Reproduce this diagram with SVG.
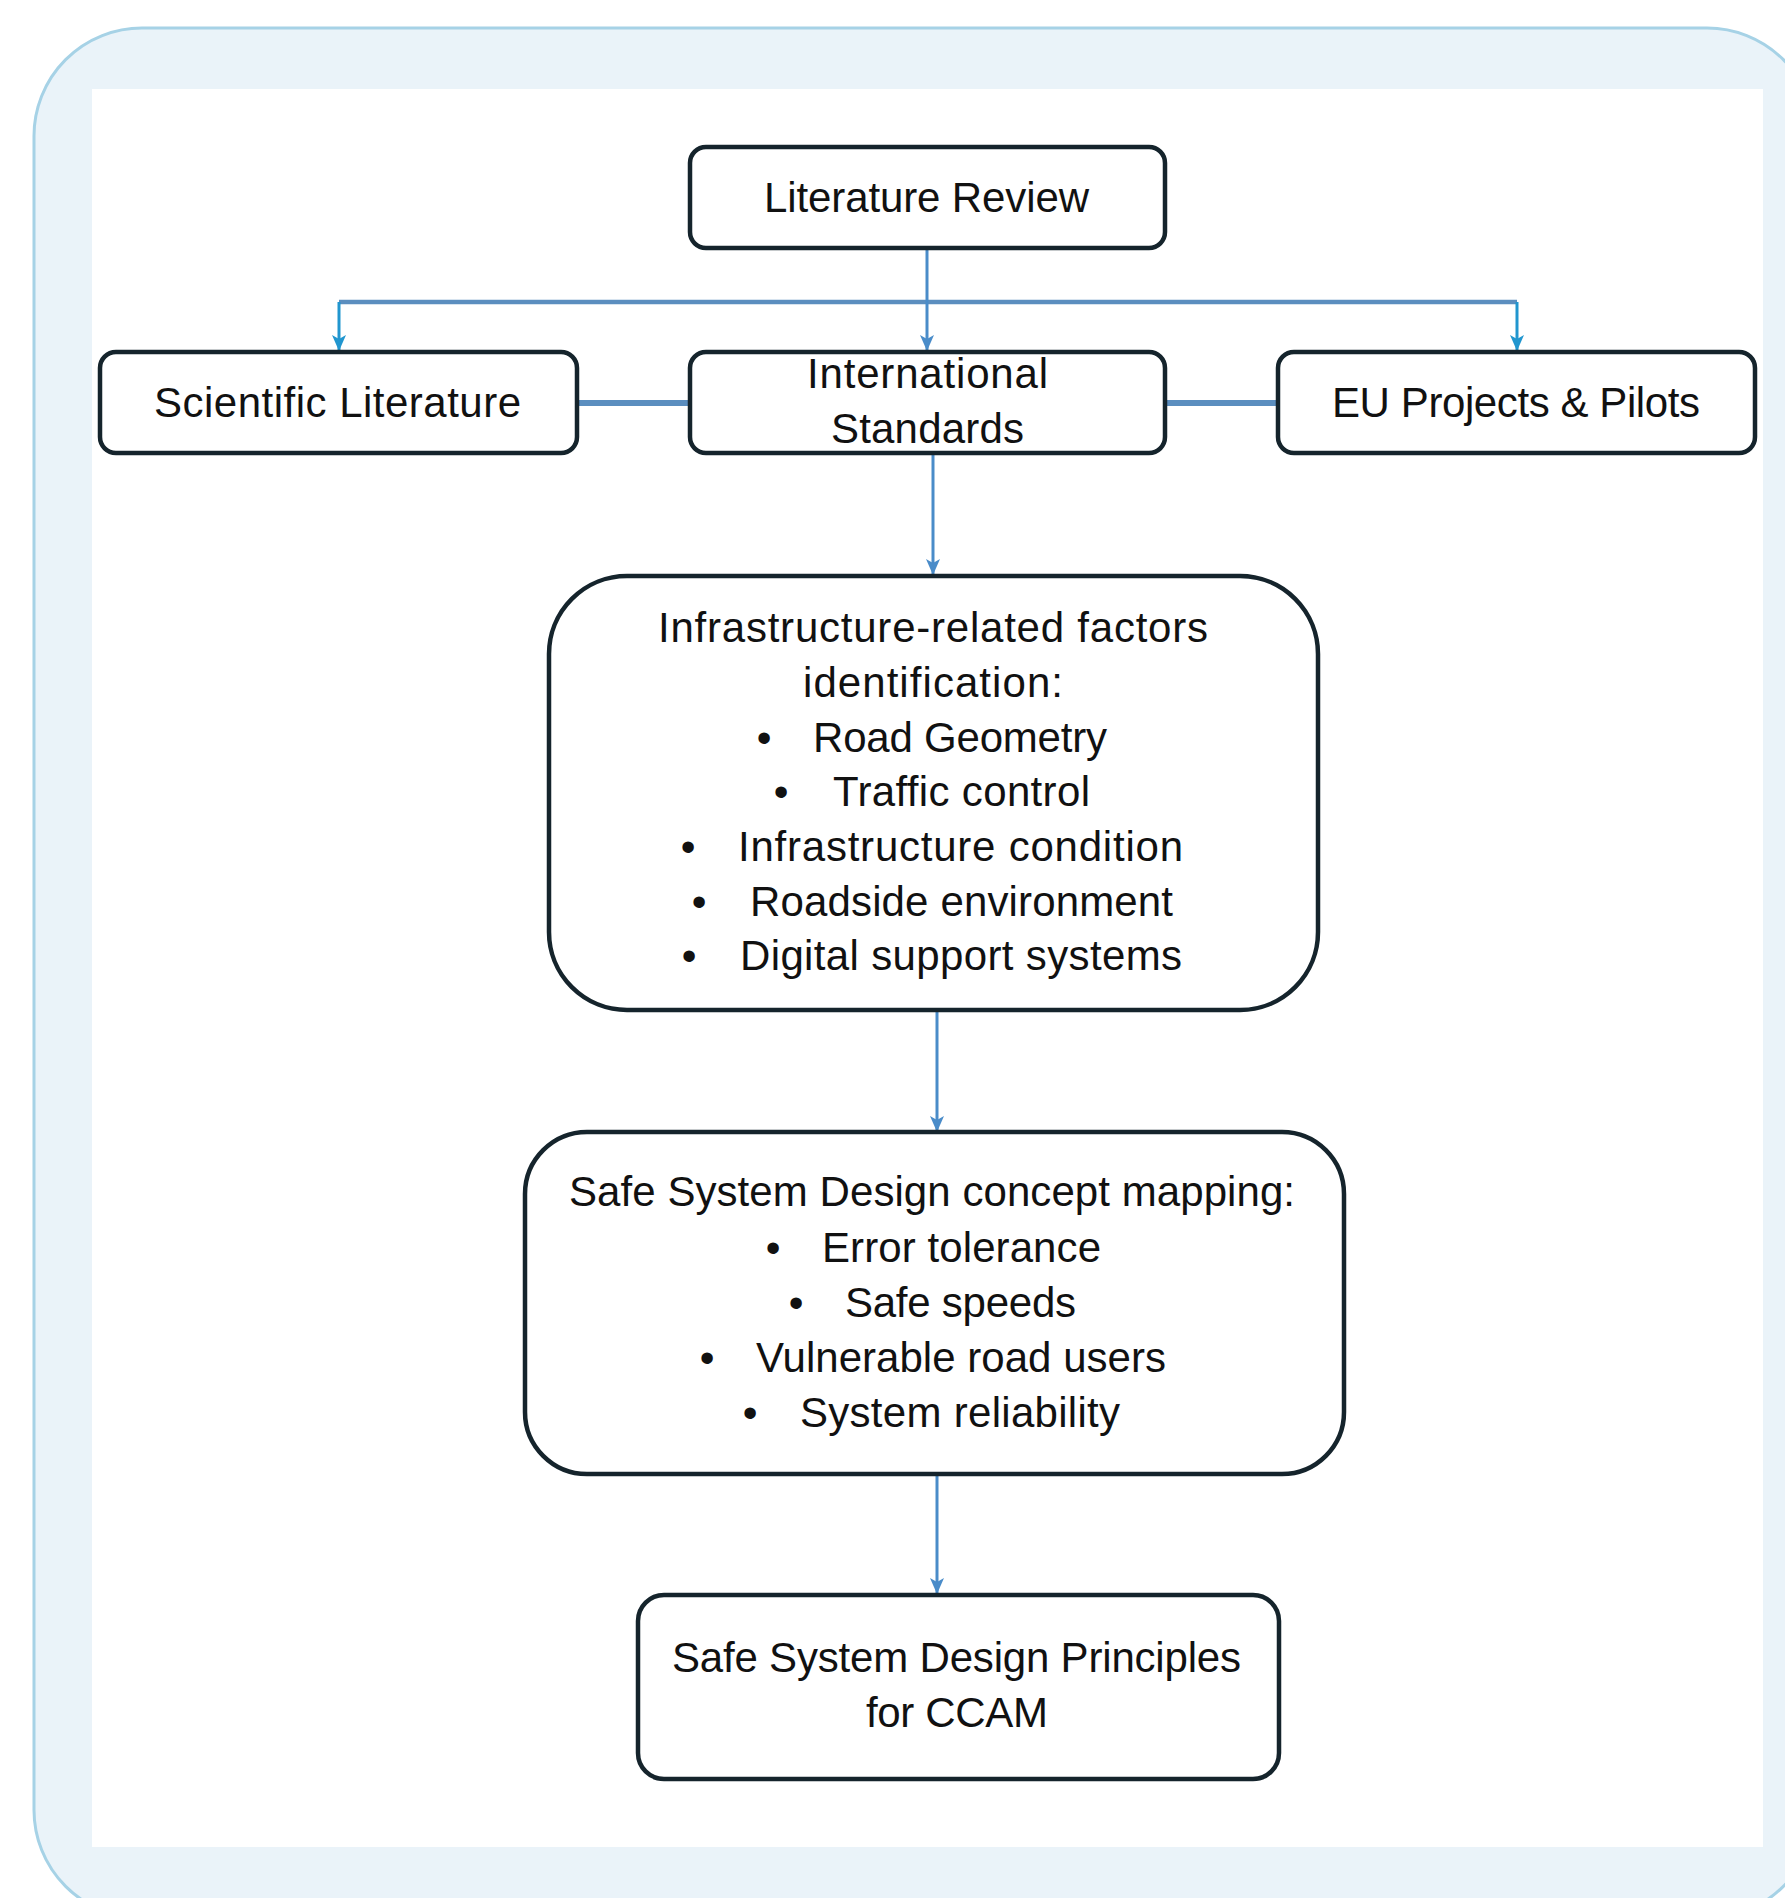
<svg xmlns="http://www.w3.org/2000/svg" width="1785" height="1898" viewBox="0 0 1785 1898">
  <style>
    .box { fill: #ffffff; stroke: #15242c; stroke-width: 4.5; }
    .t { font-family: "Liberation Sans", Arial, sans-serif; font-size: 42px; fill: #111111; }
    .b { font-family: "Liberation Sans", Arial, sans-serif; font-size: 42px; fill: #111111; text-anchor: middle; }
    .arrow { fill: none; stroke: #4a8cc9; stroke-width: 3; }
    .drop { fill: none; stroke: #2196cf; stroke-width: 3; }
    .hline { fill: none; stroke: #5b8ebf; stroke-width: 4.5; }
    .side { fill: none; stroke: #5b8ebf; stroke-width: 6; }
  </style>
  <defs>
    <marker id="ah" markerUnits="userSpaceOnUse" markerWidth="16" markerHeight="14" refX="15" refY="7" orient="auto" viewBox="0 0 16 14">
      <path d="M0,0 L16,7 L0,14 L4,7 Z" fill="#4a8cc9"/>
    </marker>
    <marker id="ah2" markerUnits="userSpaceOnUse" markerWidth="16" markerHeight="14" refX="15" refY="7" orient="auto" viewBox="0 0 16 14">
      <path d="M0,0 L16,7 L0,14 L4,7 Z" fill="#2196cf"/>
    </marker>
  </defs>

  <rect x="34" y="28" width="1781" height="1890" rx="108" ry="108" fill="#eaf3f9" stroke="#a6d2e6" stroke-width="3"/>
  <rect x="92" y="89" width="1671" height="1758" fill="#ffffff"/>

  <g id="connectors">
    <path class="hline" d="M339,302 H1517"/>
    <path class="drop" d="M339,302 V350" marker-end="url(#ah2)"/>
    <path class="drop" d="M1517,302 V350" marker-end="url(#ah2)"/>
    <path class="arrow" d="M927,249 V350" marker-end="url(#ah)"/>
    <path class="side" d="M577,403 H690"/>
    <path class="side" d="M1165,403 H1278"/>
    <path class="arrow" d="M933,453 V574" marker-end="url(#ah)"/>
    <path class="arrow" d="M937,1010 V1131" marker-end="url(#ah)"/>
    <path class="arrow" d="M937,1474 V1593" marker-end="url(#ah)"/>
  </g>

  <g id="literature-review">
    <rect class="box" x="690" y="147" width="475" height="101" rx="16"/>
    <text class="t" x="764" y="212" textLength="325" lengthAdjust="spacing">Literature Review</text>
  </g>

  <g id="scientific-literature">
    <rect class="box" x="100" y="352" width="477" height="101" rx="16"/>
    <text class="t" x="154" y="417" textLength="367" lengthAdjust="spacing">Scientific Literature</text>
  </g>

  <g id="international-standards">
    <rect class="box" x="690" y="352" width="475" height="101" rx="16"/>
    <text class="t" x="807" y="388" textLength="241" lengthAdjust="spacing">International</text>
    <text class="t" x="831" y="443" textLength="193" lengthAdjust="spacing">Standards</text>
  </g>

  <g id="eu-projects">
    <rect class="box" x="1278" y="352" width="477" height="101" rx="16"/>
    <text class="t" x="1332" y="417" textLength="368" lengthAdjust="spacing">EU Projects &amp; Pilots</text>
  </g>

  <g id="infrastructure-factors">
    <rect class="box" x="549" y="576" width="769" height="434" rx="78"/>
    <text class="t" x="658" y="642" textLength="550" lengthAdjust="spacing">Infrastructure-related factors</text>
    <text class="t" x="803" y="697" textLength="260" lengthAdjust="spacing">identification:</text>
    <text class="b" x="764" y="752">•</text>
    <text class="t" x="813" y="752" textLength="294" lengthAdjust="spacing">Road Geometry</text>
    <text class="b" x="781" y="806">•</text>
    <text class="t" x="833" y="806" textLength="257" lengthAdjust="spacing">Traffic control</text>
    <text class="b" x="688" y="861">•</text>
    <text class="t" x="738" y="861" textLength="445" lengthAdjust="spacing">Infrastructure condition</text>
    <text class="b" x="699" y="916">•</text>
    <text class="t" x="750" y="916" textLength="423" lengthAdjust="spacing">Roadside environment</text>
    <text class="b" x="689" y="970">•</text>
    <text class="t" x="740" y="970" textLength="442" lengthAdjust="spacing">Digital support systems</text>
  </g>

  <g id="safe-system-mapping">
    <rect class="box" x="525" y="1132" width="819" height="342" rx="62"/>
    <text class="t" x="569" y="1206" textLength="726" lengthAdjust="spacing">Safe System Design concept mapping:</text>
    <text class="b" x="773" y="1262">•</text>
    <text class="t" x="822" y="1262" textLength="279" lengthAdjust="spacing">Error tolerance</text>
    <text class="b" x="796" y="1317">•</text>
    <text class="t" x="845" y="1317" textLength="231" lengthAdjust="spacing">Safe speeds</text>
    <text class="b" x="707" y="1372">•</text>
    <text class="t" x="756" y="1372" textLength="410" lengthAdjust="spacing">Vulnerable road users</text>
    <text class="b" x="750" y="1427">•</text>
    <text class="t" x="800" y="1427" textLength="320" lengthAdjust="spacing">System reliability</text>
  </g>

  <g id="safe-system-principles">
    <rect class="box" x="638" y="1595" width="641" height="184" rx="26"/>
    <text class="t" x="672" y="1672" textLength="569" lengthAdjust="spacing">Safe System Design Principles</text>
    <text class="t" x="866" y="1727" textLength="182" lengthAdjust="spacing">for CCAM</text>
  </g>
</svg>
